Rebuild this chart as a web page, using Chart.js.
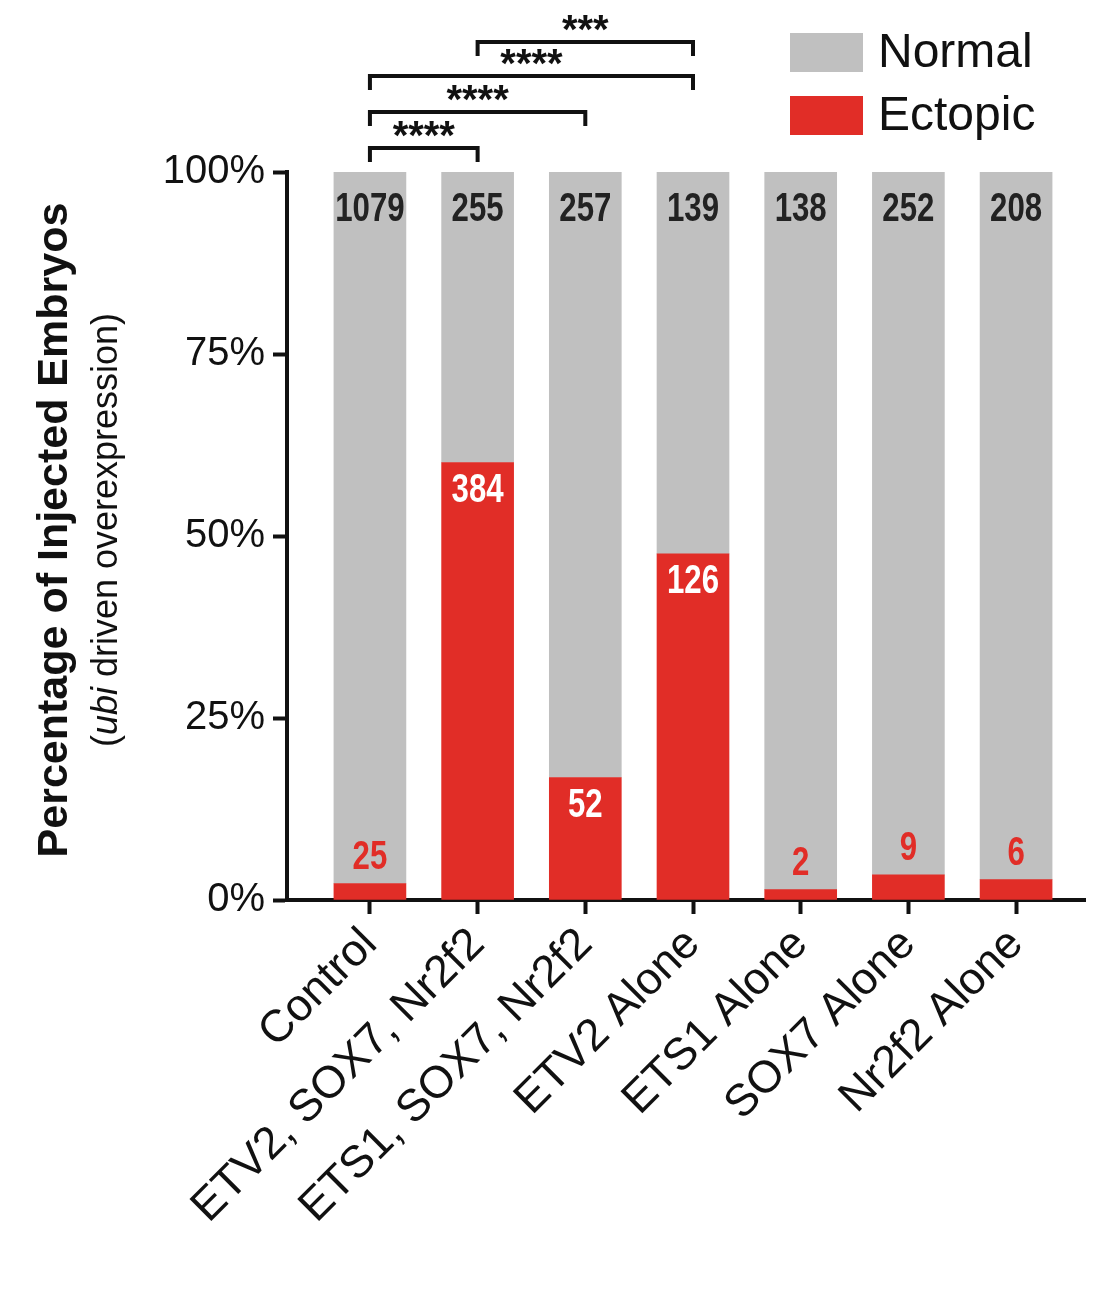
<!DOCTYPE html>
<html><head><meta charset="utf-8">
<script src="https://cdn.jsdelivr.net/npm/chart.js@4"></script>
<style>body{margin:0;background:#fff}#wrap{width:1101px;height:1310px}</style>
</head><body><div id="wrap"><canvas id="c"></canvas></div>
<script>
const categories = ['Control','ETV2, SOX7, Nr2f2','ETS1, SOX7, Nr2f2','ETV2 Alone','ETS1 Alone','SOX7 Alone','Nr2f2 Alone'];
const normalCounts = [1079,255,257,139,138,252,208];
const ectopicCounts = [25,384,52,126,2,9,6];
const yTicks = [0,25,50,75,100];
// significance brackets: [from, to, label]
const brackets = [[0,1,'****'],[0,2,'****'],[0,3,'****'],[1,3,'***']];

const ectopicPct = ectopicCounts.map((e,i)=>100*e/(e+normalCounts[i]));
const normalPct = ectopicPct.map(p=>100-p);
const GREY='#c0c0c0', RED='#e12d27';
const FONT='"Liberation Sans", Arial, sans-serif';

function narrowText(ctx,t,x,y){ // condensed bold numbers
  ctx.save(); ctx.translate(x,y); ctx.scale(0.78,1); ctx.fillText(t,0,0); ctx.restore();
}

const extras = {
  id:'extras',
  afterDatasetsDraw(chart){
    const ctx=chart.ctx, x=chart.scales.x, y=chart.scales.y;
    ctx.save();
    ctx.textAlign='center'; ctx.textBaseline='middle';
    categories.forEach((c,i)=>{
      const cx=x.getPixelForValue(i);
      ctx.font='bold 40px '+FONT; ctx.fillStyle='#222';
      narrowText(ctx,normalCounts[i], cx, 210);
      const top=y.getPixelForValue(ectopicPct[i]);
      if(ectopicPct[i]>10){ ctx.fillStyle='#fff'; narrowText(ctx,ectopicCounts[i], cx, top+28); }
      else { ctx.fillStyle=RED; narrowText(ctx,ectopicCounts[i], cx, top-26); }
    });
    const levels=[148,112,76,42];
    ctx.strokeStyle='#111'; ctx.lineWidth=4; ctx.fillStyle='#111';
    brackets.forEach((b,k)=>{
      const x1=x.getPixelForValue(b[0]), x2=x.getPixelForValue(b[1]), yy=levels[k];
      ctx.beginPath(); ctx.moveTo(x1,yy+14); ctx.lineTo(x1,yy); ctx.lineTo(x2,yy); ctx.lineTo(x2,yy+14); ctx.stroke();
      ctx.font='bold 40px '+FONT;
      ctx.fillText(b[2], (x1+x2)/2, yy-10);
    });
    ctx.textAlign='left'; ctx.font='48px '+FONT;
    ctx.fillStyle=GREY; ctx.fillRect(790,33,73,39);
    ctx.fillStyle=RED; ctx.fillRect(790,96,73,39);
    ctx.fillStyle='#111'; ctx.fillText('Normal',878,54); ctx.fillText('Ectopic',878,117);
    ctx.translate(55,530); ctx.rotate(-Math.PI/2); ctx.textAlign='center';
    ctx.font='bold 43px '+FONT; ctx.fillText('Percentage of Injected Embryos',0,0);
    const a='(', b='ubi', c2=' driven overexpression)';
    ctx.font='36px '+FONT; const wa=ctx.measureText(a).width, wc=ctx.measureText(c2).width;
    ctx.font='italic 36px '+FONT; const wb=ctx.measureText(b).width;
    let sx=-(wa+wb+wc)/2; ctx.textAlign='left';
    ctx.font='36px '+FONT; ctx.fillText(a,sx,52);
    ctx.font='italic 36px '+FONT; ctx.fillText(b,sx+wa,52);
    ctx.font='36px '+FONT; ctx.fillText(c2,sx+wa+wb,52);
    ctx.restore();
  }
};

new Chart(document.getElementById('c'),{
  type:'bar',
  data:{datasets:[
    {label:'Ectopic',data:ectopicPct.map((v,i)=>({x:i,y:v})),backgroundColor:RED,barThickness:72},
    {label:'Normal',data:normalPct.map((v,i)=>({x:i,y:v})),backgroundColor:GREY,barThickness:72}
  ]},
  options:{
    responsive:true,maintainAspectRatio:false,animation:false,
    layout:{padding:{top:172,right:16,bottom:0,left:0}},
    plugins:{legend:{display:false},tooltip:{enabled:false}},
    scales:{
      x:{type:'linear',stacked:true,min:-0.77,max:6.64,offset:false,
        afterBuildTicks(s){s.ticks=categories.map((c,i)=>({value:i}));},
        afterFit(s){s.height=410;},
        ticks:{autoSkip:false,maxRotation:45,minRotation:45,color:'#111',font:{family:FONT,size:45},padding:4,
          callback:(v)=>categories[v]},
        grid:{offset:false,drawOnChartArea:false,tickLength:14,tickWidth:4,tickColor:'#111'},
        border:{color:'#111',width:4}},
      y:{stacked:true,min:0,max:100,
        afterBuildTicks(s){s.ticks=yTicks.map(v=>({value:v}));},
        afterFit(s){s.width=287;},
        ticks:{color:'#111',font:{family:FONT,size:40},padding:8,callback:v=>v+'%'},
        grid:{drawOnChartArea:false,tickLength:14,tickWidth:4,tickColor:'#111'},
        border:{color:'#111',width:4}}
    }
  },
  plugins:[extras]
});
</script></body></html>
